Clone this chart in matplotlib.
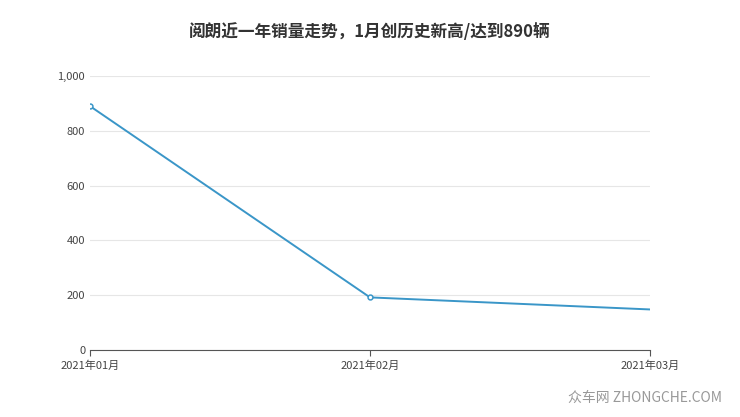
import matplotlib
matplotlib.use("Agg")
import matplotlib.pyplot as plt

plt.rcParams['font.family'] = ['Noto Sans CJK SC', 'DejaVu Sans']

months = ["2021年01月", "2021年02月", "2021年03月"]
sales = [890, 192, 148]
yTicks = [0, 200, 400, 600, 800, 1000]
yLabels = ["0", "200", "400", "600", "800", "1,000"]

fig = plt.figure(figsize=(7.4, 4.17), dpi=100)
ax = fig.add_axes([90 / 740, (417 - 350) / 417, 560 / 740, 274 / 417])
x = list(range(len(months)))
ax.plot(x, sales, color="#3a96c8", lw=1.4, marker="o", ms=3.5,
        mfc="white", mec="#3a96c8", mew=1.1, markevery=[0, 1])
ax.set_xlim(0, 2)
ax.set_ylim(0, 1000)
ax.set_xticks(x)
ax.set_xticklabels(months, fontsize=8, color="#444444")
ax.set_yticks(yTicks)
ax.set_yticklabels(yLabels, fontsize=8, color="#444444")
ax.grid(axis="y", color="#e6e6e6", lw=0.8)
for s in ["top", "right", "left"]:
    ax.spines[s].set_visible(False)
ax.spines["bottom"].set_color("#555555")
ax.tick_params(axis="y", length=0)
ax.tick_params(axis="x", length=4, color="#555555")
fig.text(0.5, 1 - 32 / 417, "阅朗近一年销量走势，1月创历史新高/达到890辆",
         ha="center", va="center", fontsize=12, fontweight="bold", color="#333333")
fig.text(0.975, 1 - 398 / 417, "众车网 ZHONGCHE.COM", ha="right", va="center",
         fontsize=10, color="#999999")
fig.savefig("out.png")
